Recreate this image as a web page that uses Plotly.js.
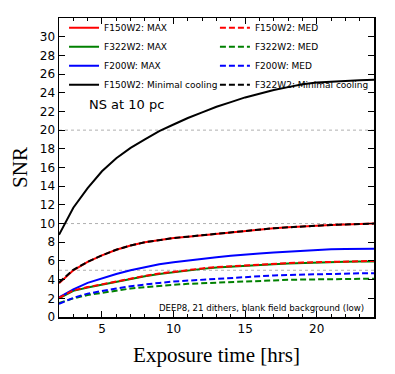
<!DOCTYPE html>
<html>
<head>
<meta charset="utf-8">
<script src="https://cdn.plot.ly/plotly-3.0.1.min.js"></script>
<style>
    html, body { margin: 0; padding: 0; background: #ffffff; }
    #chart { width: 395px; height: 374px; }
</style>
</head>
<body>
<div id="chart"></div>
<script>
const hours = [2, 3, 4, 5, 6, 7, 8, 9, 10, 11, 12, 13, 14, 15, 16, 17, 18, 19, 20, 21, 22, 23, 24];

const f150Max = [3.6, 5.0, 5.9, 6.6, 7.2, 7.65, 8.0, 8.25, 8.45, 8.6, 8.75, 8.95, 9.1, 9.25, 9.4, 9.5, 9.6, 9.7, 9.75, 9.85, 9.9, 9.95, 10.0];
const f322Max = [2.0, 2.8, 3.15, 3.45, 3.8, 4.1, 4.35, 4.6, 4.8, 4.95, 5.15, 5.3, 5.4, 5.5, 5.6, 5.65, 5.72, 5.78, 5.82, 5.86, 5.9, 5.93, 5.95];
const f200Max = [2.1, 2.95, 3.65, 4.15, 4.6, 5.0, 5.35, 5.65, 5.85, 6.05, 6.2, 6.4, 6.55, 6.7, 6.8, 6.9, 7.0, 7.1, 7.2, 7.25, 7.28, 7.3, 7.3];
const f150Minimal = [8.8, 11.7, 13.8, 15.6, 17.0, 18.1, 19.0, 19.9, 20.6, 21.3, 21.9, 22.5, 23.0, 23.5, 23.9, 24.3, 24.6, 24.9, 25.1, 25.2, 25.3, 25.35, 25.4];

const f150Med = [2.05, 2.85, 3.2, 3.5, 3.85, 4.15, 4.4, 4.65, 4.85, 5.0, 5.2, 5.35, 5.45, 5.55, 5.65, 5.7, 5.77, 5.83, 5.87, 5.91, 5.95, 5.98, 6.0];
const f322Med = [1.5, 2.0, 2.35, 2.6, 2.85, 3.05, 3.2, 3.35, 3.45, 3.55, 3.62, 3.7, 3.78, 3.85, 3.9, 3.95, 3.98, 4.01, 4.04, 4.06, 4.08, 4.09, 4.1];
const f200Med = [1.4, 2.05, 2.5, 2.8, 3.05, 3.3, 3.5, 3.65, 3.8, 3.9, 4.0, 4.1, 4.2, 4.3, 4.38, 4.45, 4.5, 4.55, 4.6, 4.63, 4.65, 4.67, 4.68];
const f322Minimal = [3.7, 5.05, 5.9, 6.6, 7.2, 7.65, 8.0, 8.25, 8.45, 8.6, 8.75, 8.95, 9.1, 9.25, 9.4, 9.5, 9.6, 9.7, 9.75, 9.85, 9.9, 9.95, 10.0];

const refLevels = [5, 10, 20];
const yTicks = [0, 2, 4, 6, 8, 10, 12, 14, 16, 18, 20, 22, 24, 26, 28, 30];

function makeTrace(name, y, color, dashed, legend) {
    return {
        x: hours,
        y: y,
        type: "scatter",
        mode: "lines",
        name: name,
        legend: legend,
        line: { color: color, width: 2, dash: dashed ? "6px,3px" : "solid" }
    };
}

const traces = [
    makeTrace("F150W2: MAX", f150Max, "#ff0000", false, "legend"),
    makeTrace("F322W2: MAX", f322Max, "#008000", false, "legend"),
    makeTrace("F200W: MAX", f200Max, "#0000ff", false, "legend"),
    makeTrace("F150W2: Minimal cooling", f150Minimal, "#000000", false, "legend"),
    makeTrace("F150W2: MED", f150Med, "#ff0000", true, "legend2"),
    makeTrace("F322W2: MED", f322Med, "#008000", true, "legend2"),
    makeTrace("F200W: MED", f200Med, "#0000ff", true, "legend2"),
    makeTrace("F322W2: Minimal cooling", f322Minimal, "#000000", true, "legend2")
];

const tickFont = { family: "DejaVu Sans, sans-serif", size: 12, color: "#000000" };
const legendFont = { family: "DejaVu Sans, sans-serif", size: 9, color: "#000000" };
const titleFont = { family: "Liberation Serif, DejaVu Serif, serif", size: 21, color: "#000000" };

const axisCommon = {
    showline: true,
    linecolor: "#000000",
    linewidth: 1.5,
    mirror: "ticks",
    ticks: "inside",
    ticklen: 6,
    tickwidth: 1,
    tickcolor: "#000000",
    showgrid: false,
    zeroline: false,
    tickfont: tickFont
};

const layout = {
    width: 395,
    height: 374,
    paper_bgcolor: "#ffffff",
    plot_bgcolor: "#ffffff",
    margin: { l: 59, r: 21, t: 18, b: 57 },
    showlegend: true,
    xaxis: {
        ...axisCommon,
        range: [2, 24],
        tick0: 0,
        dtick: 5,
        minor: { ticks: "inside", ticklen: 3, dtick: 1, tick0: 0, tickcolor: "#000000", showgrid: false },
        title: { text: "Exposure time [hrs]", font: titleFont, standoff: 12 }
    },
    yaxis: {
        ...axisCommon,
        range: [0, 32],
        tickmode: "array",
        tickvals: yTicks,
        title: { text: "SNR", font: titleFont, standoff: 6 }
    },
    legend: {
        x: 0.016, y: 1.016, xanchor: "left", yanchor: "top",
        bgcolor: "rgba(0,0,0,0)", font: legendFont, tracegroupgap: 0
    },
    legend2: {
        x: 0.495, y: 1.016, xanchor: "left", yanchor: "top",
        bgcolor: "rgba(0,0,0,0)", font: legendFont, tracegroupgap: 0
    },
    shapes: refLevels.map(v => ({
        type: "line", xref: "paper", x0: 0, x1: 1, yref: "y", y0: v, y1: v,
        line: { color: "#b0b0b0", width: 1, dash: "dot" }, layer: "below"
    })),
    annotations: [
        {
            text: "NS at 10 pc", xref: "paper", yref: "paper", x: 0.09, y: 0.71,
            xanchor: "left", yanchor: "middle", showarrow: false,
            font: { family: "DejaVu Sans, sans-serif", size: 13, color: "#000000" }
        },
        {
            text: "DEEP8, 21 dithers, blank field background (low)", xref: "paper", yref: "paper",
            x: 0.975, y: 0.03, xanchor: "right", yanchor: "middle", showarrow: false,
            font: { family: "DejaVu Sans, sans-serif", size: 8.6, color: "#000000" }
        }
    ]
};

Plotly.newPlot("chart", traces, layout, { staticPlot: true });
</script>
</body>
</html>
